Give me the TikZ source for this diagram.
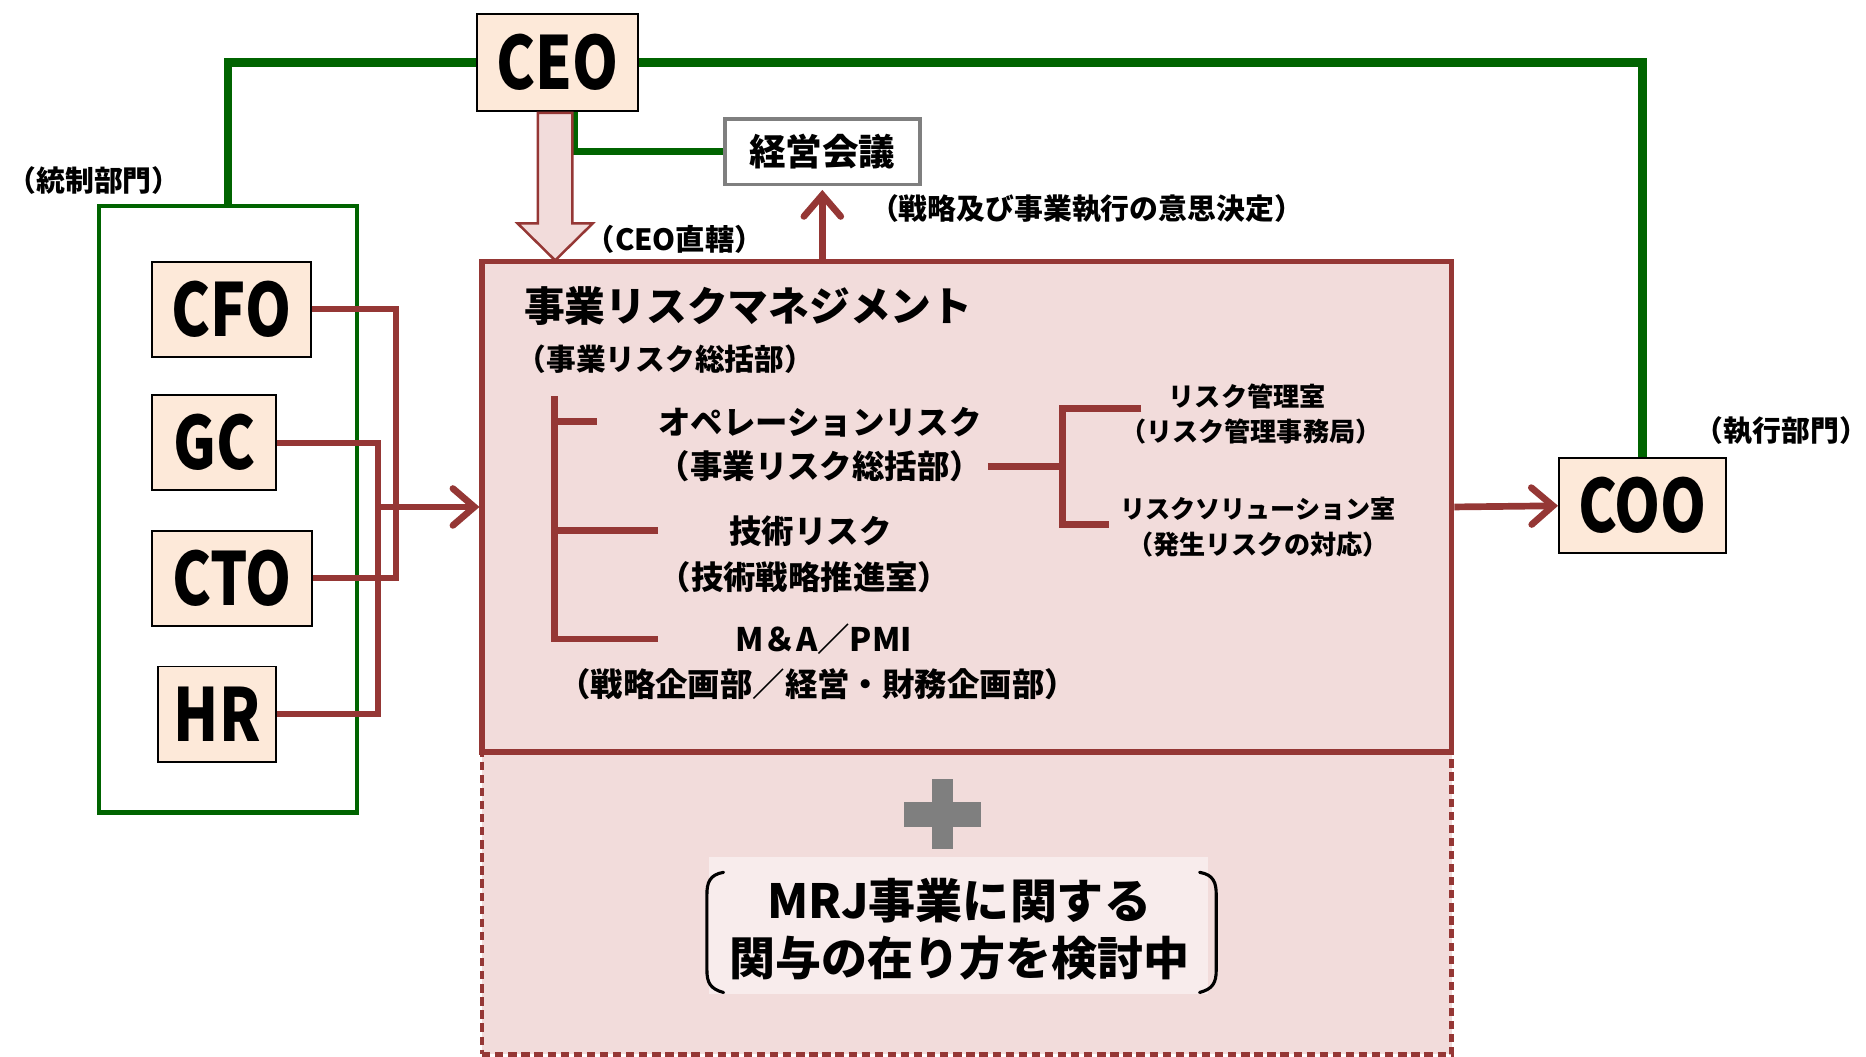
\documentclass[tikz,border=0pt]{standalone}
\usepackage{fontspec}
\setmainfont{Noto Sans CJK JP}
\newfontfamily\latn{Noto Sans CJK JP}[FakeStretch=0.8]
\usetikzlibrary{arrows.meta,calc}
\definecolor{peach}{HTML}{FDE9D9}
\definecolor{pinkbg}{HTML}{F2DCDB}
\definecolor{lightpink}{HTML}{F8ECEC}
\definecolor{dred}{HTML}{953735}
\definecolor{dgreen}{HTML}{006400}
\definecolor{midgray}{HTML}{7F7F7F}
\begin{document}
\begin{tikzpicture}[x=0.02cm,y=-0.02cm,
  rolebox/.style={draw=black, line width=0.9pt, fill=peach, inner sep=0pt,
    font=\latn\bfseries\fontsize{35}{36}\selectfont},
  grnline/.style={draw=dgreen, line width=4.2pt},
  redline/.style={draw=dred, line width=2.9pt},
  treeline/.style={draw=dred, line width=3.2pt},
  redarrow/.style={redline, line width=3.2pt, -{Straight Barb[length=0.36cm,width=0.62cm,line cap=round]}},
  lbl/.style={inner sep=0pt, font=\bfseries\fontsize{13.8}{15}\selectfont},
  brlbl/.style={inner sep=0pt, font=\bfseries\fontsize{15.5}{17}\selectfont},
  rklbl/.style={inner sep=0pt, font=\bfseries\fontsize{12.5}{14}\selectfont},
  bigtxt/.style={inner sep=0pt, font=\bfseries\fontsize{22}{24}\selectfont}
]
\useasboundingbox (0,0) rectangle (1568,888);

% lower dashed box and main box
\node[draw=dred, fill=pinkbg, line width=2.3pt, dash pattern=on 0.14cm off 0.08cm,
      minimum width=16.3cm, minimum height=5.08cm, inner sep=0pt] (future) at (812.5,759) {};
\node[draw=dred, fill=pinkbg, line width=2.5pt,
      minimum width=16.3cm, minimum height=8.24cm, inner sep=0pt] (main) at (812.5,426) {};

% green control box
\node[draw=dgreen, line width=2.2pt, minimum width=4.34cm, minimum height=10.2cm, inner sep=0pt] (ctrl) at (191.5,428) {};

% role boxes
\node[rolebox, minimum width=2.70cm, minimum height=1.62cm] (CEO) at (468.5,52.5) {CEO};
\node[rolebox, minimum width=2.66cm, minimum height=1.6cm] (CFO) at (194.5,260) {CFO};
\node[rolebox, minimum width=2.08cm, minimum height=1.6cm] (GC) at (180,372) {GC};
\node[rolebox, minimum width=2.68cm, minimum height=1.6cm] (CTO) at (195,486) {CTO};
\node[rolebox, minimum width=1.98cm, minimum height=1.6cm] (HR) at (182.5,600) {HR};
\node[rolebox, minimum width=2.80cm, minimum height=1.6cm] (COO) at (1380,425) {COO};
\node[draw=midgray, fill=white, line width=1.8pt, minimum width=3.28cm, minimum height=1.1cm, inner sep=0pt,
      font=\bfseries\fontsize{17.5}{19}\selectfont] (mtg) at (691,127.5) {経営会議};

% green lines
\draw[grnline] (CEO.west) -| (ctrl.north);
\draw[grnline] (CEO.east) -| (COO.north);
\draw[draw=dgreen, line width=3.2pt] ([xshift=0.29cm]CEO.south) |- (mtg.west);

% hollow arrow CEO -> main
\draw[draw=dred, fill=pinkbg, line width=1.2pt]
  ($(CEO.south)+(-16.5,1)$) -- ($(CEO.south)+(12.5,1)$) -- ($(CEO.south)+(12.5,94)$)
  -- ($(CEO.south)+(29.5,94)$) -- ($(CEO.south)+(-2,125)$) -- ($(CEO.south)+(-33.5,94)$)
  -- ($(CEO.south)+(-16.5,94)$) -- cycle;

% arrows
\draw[redarrow] (main.north -| mtg.south) -- ([yshift=-0.06cm]mtg.south);
\draw[redarrow] (main.east) -- (COO.west);

% left red connectors
\coordinate (jA) at (333,0);
\coordinate (jB) at (318,0);
\draw[redline] (CFO.east) -- (CFO.east -| jA) -- (CTO.east -| jA) -- (CTO.east);
\draw[redline] (GC.east) -- (GC.east -| jB) -- (HR.east -| jB) -- (HR.east);
\draw[redarrow] (main.west -| jB) -- (main.west);

% labels outside
\node[lbl] (lctrl) at (79,152) {（統制部門）};
\node[lbl, font=\bfseries\fontsize{14}{15}\selectfont] (lceo) at (567,201) {（CEO直轄）};
\node[lbl] (ldec) at (913,175) {（戦略及び事業執行の意思決定）};
\node[lbl] (lexec) at (1497,362) {（執行部門）};

% inside main box
\node[anchor=west, inner sep=0pt, font=\bfseries\fontsize{19.5}{21}\selectfont] (title) at (440,257) {事業リスクマネジメント};
\node[anchor=west, inner sep=0pt, font=\bfseries\fontsize{14.2}{15}\selectfont] (sub) at (434,302) {（事業リスク総括部）};

\node[brlbl] (op1) at (689,355) {オペレーションリスク};
\node[brlbl] (op2) at (689,392) {（事業リスク総括部）};
\node[brlbl] (te1) at (681,446) {技術リスク};
\node[brlbl] (te2) at (676,485) {（技術戦略推進室）};
\node[brlbl] (ma1) at (692,537) {M＆A／PMI};
\node[brlbl] (ma2) at (687,575) {（戦略企画部／経営・財務企画部）};

\node[rklbl] (rk1) at (1048,333) {リスク管理室};
\node[rklbl] (rk2) at (1051,363) {（リスク管理事務局）};
\node[rklbl, font=\bfseries\fontsize{12}{14}\selectfont] (rs1) at (1057,428) {リスクソリューション室};
\node[rklbl] (rs2) at (1057,458) {（発生リスクの対応）};

% tree lines
\coordinate (tTop) at (466,333);
\coordinate (tBot) at (466,537);
\draw[treeline] (tTop) -- (tBot) -- (553,537);
\draw[treeline] (466,354) -- (502,354);
\draw[treeline] (466,446) -- (553,446);
\coordinate (bL) at (830,392);
\coordinate (bM) at (893,392);
\draw[treeline] (bL) -- (bM);
\draw[treeline] (959,343) -- (893,343) -- (893,441) -- (932,441);

% plus sign
\fill[midgray] (783,655) rectangle (801,713);
\fill[midgray] (760,674) rectangle (824,695);

% MRJ box
\node[fill=lightpink, minimum width=8.38cm, minimum height=2.3cm, inner sep=0pt] (mrj) at (805.5,777.5) {};
\draw[line width=1.5pt, line cap=round] (608,733) .. controls (596,735) and (594,742) .. (594,752) -- (594,815)
   .. controls (594,826) and (597,831) .. (608,834);
\draw[line width=1.5pt, line cap=round] (1008,733) .. controls (1020,735) and (1022,742) .. (1022,752) -- (1022,815)
   .. controls (1022,826) and (1019,831) .. (1008,834);
\node[bigtxt, font=\bfseries\fontsize{22.5}{24}\selectfont] (mrj1) at (806,757) {MRJ事業に関する};
\node[bigtxt] (mrj2) at (806,805) {関与の在り方を検討中};
\end{tikzpicture}
\end{document}
